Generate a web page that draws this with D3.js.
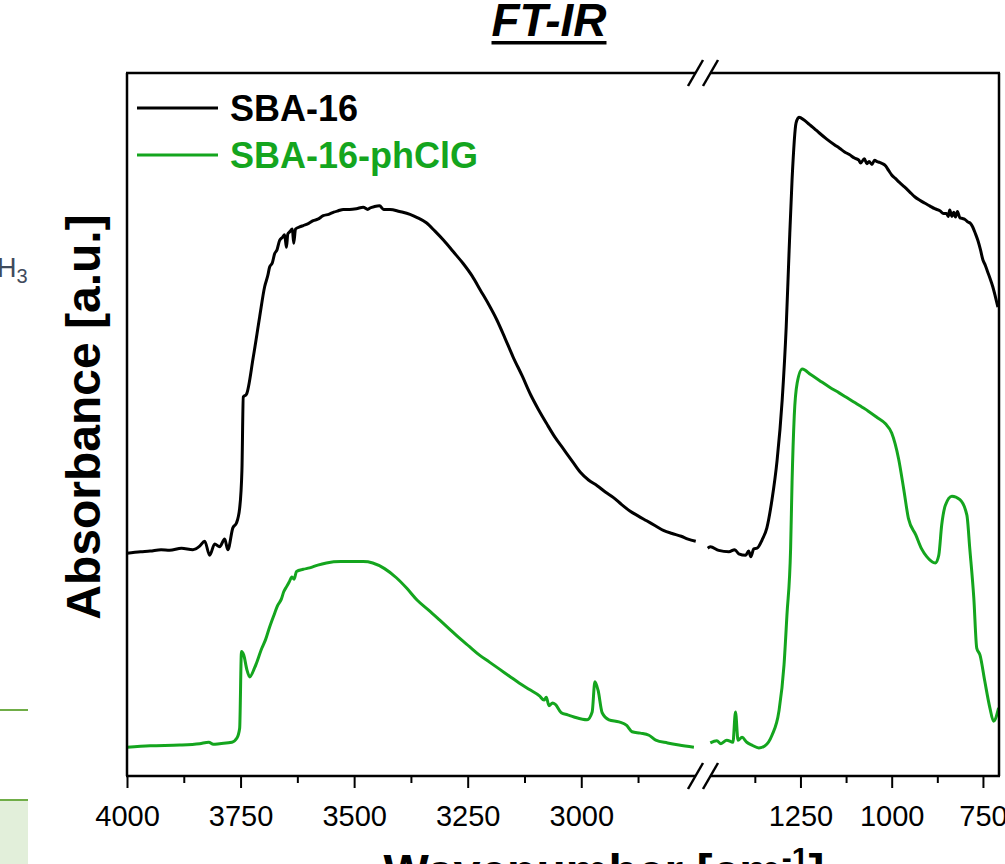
<!DOCTYPE html>
<html>
<head>
<meta charset="utf-8">
<script src="https://cdn.jsdelivr.net/npm/d3@7"></script>
<style>
  html, body { margin: 0; padding: 0; background: #fff; }
  svg { display: block; font-family: "Liberation Sans", Arial, sans-serif; }
</style>
</head>
<body>
<div id="chart"></div>
<script>
// wavenumber [cm-1], absorbance [a.u.]
const sba16Left = [
  [4000,0.317],[3970,0.319],[3949,0.320],[3925,0.322],[3906,0.321],[3880,0.324],[3855,0.322],
  [3840,0.327],[3829,0.334],[3818,0.314],[3807,0.330],[3796,0.326],[3785,0.337],[3778,0.322],
  [3767,0.353],[3759,0.360],[3752,0.381],[3747,0.435],[3744,0.539],[3737,0.543],[3722,0.596],
  [3708,0.653],[3697,0.696],[3690,0.712],[3686,0.724],[3680,0.730],[3675,0.743],[3670,0.748],
  [3664,0.762],[3658,0.766],[3653,0.770],[3649,0.752],[3646,0.771],[3642,0.774],[3636,0.778],
  [3633,0.758],[3629,0.778],[3620,0.781],[3612,0.783],[3600,0.786],[3590,0.790],[3580,0.792],
  [3568,0.797],[3556,0.799],[3545,0.802],[3535,0.804],[3524,0.806],[3510,0.806],[3495,0.807],
  [3480,0.809],[3470,0.806],[3465,0.808],[3455,0.810],[3444,0.811],[3435,0.806],[3421,0.806],
  [3400,0.803],[3377,0.799],[3360,0.794],[3341,0.787],[3322,0.775],[3303,0.762],[3282,0.746],
  [3260,0.729],[3240,0.711],[3222,0.691],[3204,0.671],[3186,0.649],[3168,0.623],[3150,0.596],
  [3130,0.569],[3112,0.543],[3094,0.521],[3076,0.501],[3058,0.482],[3039,0.465],[3020,0.448],
  [3002,0.432],[2984,0.421],[2965,0.413],[2947,0.404],[2929,0.396],[2911,0.386],[2893,0.377],
  [2875,0.370],[2856,0.363],[2837,0.356],[2818,0.349],[2800,0.345],[2780,0.341],[2765,0.337],
  [2748,0.334]
];
const sba16Right = [
  [1504,0.324],[1497,0.326],[1474,0.321],[1446,0.319],[1430,0.322],[1419,0.316],[1400,0.314],
  [1392,0.320],[1386,0.312],[1378,0.323],[1369,0.324],[1355,0.336],[1342,0.353],[1328,0.393],
  [1314,0.449],[1300,0.535],[1289,0.639],[1281,0.748],[1273,0.848],[1262,0.929],[1254,0.937],
  [1240,0.933],[1226,0.927],[1212,0.921],[1199,0.915],[1178,0.906],[1157,0.898],[1143,0.893],
  [1130,0.888],[1116,0.884],[1102,0.879],[1090,0.876],[1085,0.872],[1075,0.878],[1068,0.871],
  [1062,0.874],[1054,0.870],[1047,0.876],[1040,0.874],[1034,0.873],[1025,0.871],[1017,0.868],
  [1008,0.861],[1000,0.855],[990,0.850],[978,0.844],[965,0.838],[951,0.831],[937,0.824],
  [923,0.819],[910,0.815],[896,0.811],[882,0.807],[868,0.804],[858,0.800],[850,0.800],
  [845,0.796],[841,0.805],[835,0.796],[830,0.802],[825,0.795],[820,0.803],[813,0.794],
  [806,0.793],[800,0.792],[791,0.788],[784,0.786],[778,0.781],[771,0.772],[764,0.762],
  [757,0.749],[750,0.734],[744,0.727],[737,0.717],[730,0.707],[723,0.696],[716,0.682],
  [709,0.667]
];
const phclgLeft = [
  [4000,0.041],[3949,0.043],[3884,0.044],[3840,0.046],[3820,0.048],[3810,0.045],[3796,0.046],
  [3769,0.048],[3758,0.054],[3752,0.068],[3748,0.177],[3743,0.172],[3736,0.151],[3730,0.141],
  [3719,0.154],[3703,0.182],[3695,0.194],[3686,0.212],[3677,0.228],[3668,0.243],[3660,0.252],
  [3655,0.262],[3649,0.269],[3643,0.276],[3637,0.283],[3632,0.280],[3627,0.291],[3612,0.294],
  [3598,0.296],[3580,0.300],[3561,0.303],[3530,0.305],[3503,0.305],[3480,0.305],[3459,0.303],
  [3433,0.295],[3407,0.282],[3384,0.267],[3361,0.250],[3336,0.236],[3312,0.222],[3290,0.209],
  [3268,0.196],[3246,0.184],[3224,0.172],[3202,0.162],[3180,0.152],[3158,0.142],[3136,0.132],
  [3114,0.123],[3092,0.114],[3082,0.108],[3077,0.112],[3071,0.100],[3063,0.104],[3057,0.102],
  [3044,0.090],[3030,0.087],[3016,0.084],[2987,0.080],[2976,0.091],[2970,0.134],[2963,0.122],
  [2954,0.090],[2939,0.080],[2917,0.077],[2900,0.072],[2888,0.063],[2870,0.061],[2851,0.058],
  [2836,0.051],[2810,0.047],[2785,0.044],[2752,0.041]
];
const phclgRight = [
  [1497,0.047],[1479,0.050],[1468,0.046],[1452,0.051],[1435,0.048],[1428,0.091],[1421,0.051],
  [1410,0.055],[1397,0.048],[1383,0.044],[1364,0.040],[1347,0.043],[1328,0.058],[1309,0.092],
  [1295,0.158],[1287,0.229],[1277,0.323],[1273,0.418],[1267,0.512],[1259,0.559],[1245,0.579],
  [1222,0.571],[1199,0.563],[1170,0.553],[1144,0.545],[1122,0.538],[1100,0.531],[1082,0.525],
  [1064,0.519],[1040,0.510],[1017,0.501],[1000,0.488],[981,0.451],[967,0.408],[954,0.366],
  [934,0.343],[918,0.323],[904,0.312],[880,0.303],[871,0.314],[863,0.357],[853,0.385],
  [835,0.398],[813,0.393],[794,0.371],[786,0.323],[775,0.253],[767,0.182],[758,0.172],
  [745,0.135],[731,0.097],[721,0.078],[707,0.097]
];

const leftMajor = [4000, 3750, 3500, 3250, 3000];
const leftMinor = [3875, 3625, 3375, 3125, 2875];
const rightMajor = [1250, 1000, 750];
const rightMinor = [1375, 1125, 875];

const seriesNames = ["SBA-16", "SBA-16-phClG"];
const seriesColors = ["#000000", "#14a51e"];

const width = 1005, height = 864;
const plotL = 127, plotR = 999, plotT = 73, plotB = 776;
const breakX = 703;

const svg = d3.select("#chart").append("svg")
  .attr("width", width)
  .attr("height", height);

// scraps of the neighbouring figure at the left edge
svg.append("text")
  .attr("x", -3).attr("y", 277)
  .attr("fill", "#3f4b5c")
  .style("font-size", "27px")
  .text("H")
  .append("tspan").attr("dy", 6).style("font-size", "20px").text("3");
svg.append("rect").attr("x", 0).attr("y", 801).attr("width", 28).attr("height", 63).attr("fill", "#e2efda");
svg.append("line").attr("x1", 0).attr("x2", 28).attr("y1", 710).attr("y2", 710).attr("stroke", "#70ad47").attr("stroke-width", 2);
svg.append("line").attr("x1", 0).attr("x2", 28).attr("y1", 800).attr("y2", 800).attr("stroke", "#70ad47").attr("stroke-width", 2);

const xL = d3.scaleLinear().domain([4000, 2732]).range([plotL, breakX]);
const xR = d3.scaleLinear().domain([1517, 706]).range([breakX, plotR]);
const y = d3.scaleLinear().domain([0, 1]).range([plotB, plotT]);

// curves
const lineL = d3.line().x(d => xL(d[0])).y(d => y(d[1])).curve(d3.curveMonotoneX);
const lineR = d3.line().x(d => xR(d[0])).y(d => y(d[1])).curve(d3.curveMonotoneX);

[[sba16Left, sba16Right, 0], [phclgLeft, phclgRight, 1]].forEach(([a, b, i]) => {
  svg.append("path").attr("d", lineL(a))
    .attr("fill", "none").attr("stroke", seriesColors[i])
    .attr("stroke-width", 3).attr("stroke-linejoin", "round");
  svg.append("path").attr("d", lineR(b))
    .attr("fill", "none").attr("stroke", seriesColors[i])
    .attr("stroke-width", 3).attr("stroke-linejoin", "round");
});

// axes (ticks only)
function tickAxis(scale, values, size, withLabels) {
  const ax = d3.axisBottom(scale).tickValues(values).tickSize(size).tickPadding(17)
    .tickFormat(withLabels ? d3.format("d") : "");
  const g = svg.append("g").attr("transform", `translate(0,${plotB})`).call(ax);
  g.select(".domain").remove();
  g.selectAll(".tick line").attr("stroke", "#000").attr("stroke-width", 2);
  g.selectAll(".tick text")
    .attr("fill", "#000")
    .style("font-size", "29px")
    .style("font-family", '"Liberation Sans", Arial, sans-serif');
  return g;
}
tickAxis(xL, leftMajor, 12, true);
tickAxis(xL, leftMinor, 7, false);
tickAxis(xR, rightMajor, 12, true);
tickAxis(xR, rightMinor, 7, false);

// frame with axis break
const frame = svg.append("g").attr("stroke", "#000").attr("stroke-width", 2.5).attr("fill", "none");
const s1 = breakX - 7.5, s2 = breakX + 7.5;
frame.append("line").attr("x1", plotL).attr("x2", plotL).attr("y1", plotT).attr("y2", plotB);
frame.append("line").attr("x1", plotR).attr("x2", plotR).attr("y1", plotT).attr("y2", plotB);
[plotT, plotB].forEach(yy => {
  frame.append("line").attr("x1", plotL - 1).attr("x2", s1).attr("y1", yy).attr("y2", yy);
  frame.append("line").attr("x1", s2).attr("x2", plotR + 1).attr("y1", yy).attr("y2", yy);
  [s1, s2].forEach(sx => {
    frame.append("line")
      .attr("x1", sx - 7.5).attr("y1", yy + 13)
      .attr("x2", sx + 7.5).attr("y2", yy - 13);
  });
});

// legend
seriesNames.forEach((name, i) => {
  const ly = 108 + i * 47;
  svg.append("line")
    .attr("x1", 137).attr("x2", 218).attr("y1", ly).attr("y2", ly)
    .attr("stroke", seriesColors[i]).attr("stroke-width", 3);
  svg.append("text")
    .attr("x", 230).attr("y", ly + 13)
    .attr("fill", seriesColors[i])
    .style("font-size", "36px").style("font-weight", "bold")
    .text(name);
});

// title
const title = svg.append("text")
  .attr("x", 549).attr("y", 36)
  .attr("text-anchor", "middle")
  .style("font-size", "46px").style("font-weight", "bold").style("font-style", "italic")
  .text("FT-IR");
const tb = title.node().getBBox();
svg.append("rect").attr("x", tb.x).attr("y", 41).attr("width", tb.width).attr("height", 3.5).attr("fill", "#000");

// axis titles
svg.append("text")
  .attr("transform", "translate(100,417) rotate(-90)")
  .attr("text-anchor", "middle")
  .style("font-size", "48px").style("font-weight", "bold")
  .text("Absorbance [a.u.]");

const xt = svg.append("text")
  .attr("x", 604).attr("y", 888)
  .attr("text-anchor", "middle")
  .style("font-size", "48px").style("font-weight", "bold");
xt.append("tspan").text("Wavenumber [cm");
xt.append("tspan").attr("dy", -20).style("font-size", "30px").text("-1");
xt.append("tspan").attr("dy", 20).text("]");
</script>
</body>
</html>
